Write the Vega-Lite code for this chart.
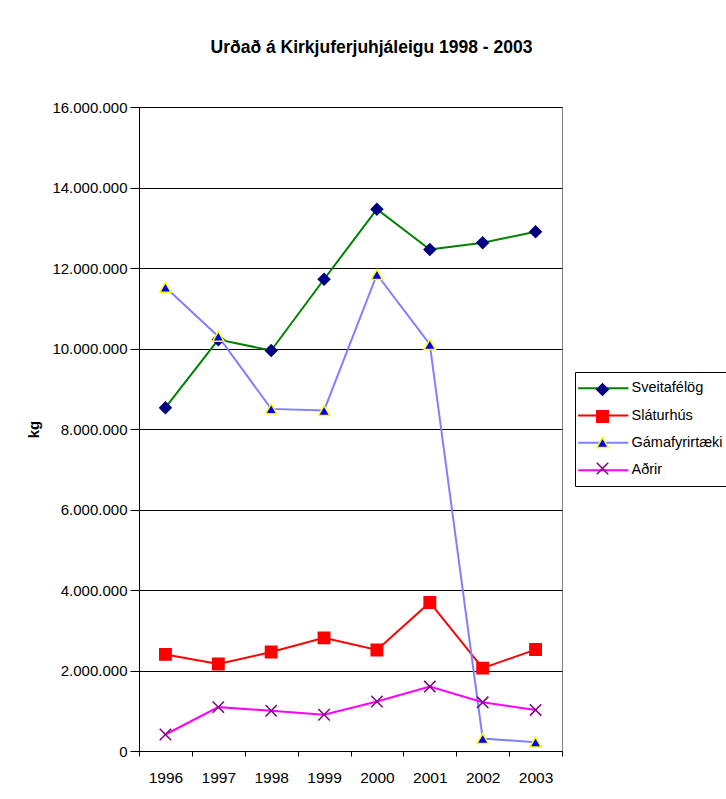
{
  "$schema": "https://vega.github.io/schema/vega-lite/v6.json",
  "width": 423,
  "height": 644,
  "autosize": "none",
  "padding": {"left": 139, "top": 107, "right": 164, "bottom": 48},
  "background": "white",
  "title": {"text": "Urðað á Kirkjuferjuhjáleigu 1998 - 2003", "fontSize": 17.5, "fontWeight": "bold", "font": "Liberation Sans", "anchor": "middle", "dx": 21, "offset": 44, "color": "black"},
  "data": {"values": [
    {"year": "1996", "series": "Sveitafélög", "value": 8530000},
    {"year": "1997", "series": "Sveitafélög", "value": 10220000},
    {"year": "1998", "series": "Sveitafélög", "value": 9950000},
    {"year": "1999", "series": "Sveitafélög", "value": 11720000},
    {"year": "2000", "series": "Sveitafélög", "value": 13460000},
    {"year": "2001", "series": "Sveitafélög", "value": 12460000},
    {"year": "2002", "series": "Sveitafélög", "value": 12630000},
    {"year": "2003", "series": "Sveitafélög", "value": 12900000},
    {"year": "1996", "series": "Sláturhús", "value": 2400000},
    {"year": "1997", "series": "Sláturhús", "value": 2160000},
    {"year": "1998", "series": "Sláturhús", "value": 2460000},
    {"year": "1999", "series": "Sláturhús", "value": 2810000},
    {"year": "2000", "series": "Sláturhús", "value": 2510000},
    {"year": "2001", "series": "Sláturhús", "value": 3690000},
    {"year": "2002", "series": "Sláturhús", "value": 2060000},
    {"year": "2003", "series": "Sláturhús", "value": 2520000},
    {"year": "1996", "series": "Gámafyrirtæki", "value": 11520000},
    {"year": "1997", "series": "Gámafyrirtæki", "value": 10300000},
    {"year": "1998", "series": "Gámafyrirtæki", "value": 8500000},
    {"year": "1999", "series": "Gámafyrirtæki", "value": 8460000},
    {"year": "2000", "series": "Gámafyrirtæki", "value": 11840000},
    {"year": "2001", "series": "Gámafyrirtæki", "value": 10100000},
    {"year": "2002", "series": "Gámafyrirtæki", "value": 310000},
    {"year": "2003", "series": "Gámafyrirtæki", "value": 220000},
    {"year": "1996", "series": "Aðrir", "value": 410000},
    {"year": "1997", "series": "Aðrir", "value": 1090000},
    {"year": "1998", "series": "Aðrir", "value": 1000000},
    {"year": "1999", "series": "Aðrir", "value": 900000},
    {"year": "2000", "series": "Aðrir", "value": 1230000},
    {"year": "2001", "series": "Aðrir", "value": 1600000},
    {"year": "2002", "series": "Aðrir", "value": 1210000},
    {"year": "2003", "series": "Aðrir", "value": 1020000}
  ]},
  "encoding": {
    "x": {
      "field": "year", "type": "ordinal",
      "scale": {"type": "band", "paddingInner": 0, "paddingOuter": 0},
      "axis": {"title": null, "labelAngle": 0, "tickBand": "extent", "grid": false, "tickSize": 5, "tickColor": "black", "domainColor": "black", "labelFontSize": 15.5, "labelPadding": 14, "labelColor": "black"}
    },
    "y": {
      "field": "value", "type": "quantitative",
      "scale": {"domain": [0, 16000000], "nice": false},
      "axis": {
        "title": "kg", "titleFontSize": 15, "titleFontWeight": "bold", "titleColor": "black", "titlePadding": 10,
        "values": [0, 2000000, 4000000, 6000000, 8000000, 10000000, 12000000, 14000000, 16000000],
        "labelExpr": "replace(format(datum.value, ',d'), /,/g, '.')",
        "grid": true, "gridColor": "black", "gridOpacity": 1, "gridWidth": 1,
        "tickSize": 9, "tickColor": "black", "domainColor": "black",
        "labelFontSize": 15, "labelPadding": 3, "labelColor": "black"
      }
    }
  },
  "layer": [
    {
      "mark": {"type": "line", "strokeWidth": 2},
      "encoding": {
        "stroke": {
          "field": "series", "type": "nominal",
          "scale": {"domain": ["Sveitafélög", "Sláturhús", "Gámafyrirtæki", "Aðrir"], "range": ["#008000", "#FF0000", "#8080FF", "#FF00FF"]},
          "legend": {"title": null, "orient": "none", "legendX": 436, "legendY": 265, "strokeColor": "black", "fillColor": "white", "padding": 9, "symbolType": "M-4.4,0H4.4", "symbolSize": 130, "symbolStrokeWidth": 2, "symbolOffset": 12, "labelOffset": 21, "labelFontSize": 14.5, "labelColor": "black", "rowPadding": 12.3, "labelLimit": 200}
        }
      }
    },
    {
      "mark": {"type": "point", "filled": true, "size": 130, "strokeWidth": 1.5, "opacity": 1},
      "encoding": {
        "shape": {
          "field": "series", "type": "nominal",
          "scale": {"domain": ["Sveitafélög", "Sláturhús", "Gámafyrirtæki", "Aðrir"], "range": ["diamond", "square", "triangle-up", "M-1,-1L1,1M1,-1L-1,1"]},
          "legend": {"title": null, "orient": "none", "legendX": 436, "legendY": 267, "padding": 9, "symbolSize": 130, "symbolStrokeWidth": 1.5, "symbolOffset": 12, "labelOffset": 0, "labelFontSize": 1, "labelExpr": "''", "rowPadding": 8, "labelLimit": 200}
        },
        "fill": {
          "field": "series", "type": "nominal",
          "scale": {"domain": ["Sveitafélög", "Sláturhús", "Gámafyrirtæki", "Aðrir"], "range": ["#000080", "#FF0000", "#0000FF", "#800080"]},
          "legend": {"title": null, "orient": "none", "legendX": 436, "legendY": 267, "padding": 9, "symbolSize": 130, "symbolStrokeWidth": 1.5, "symbolOffset": 12, "labelOffset": 0, "labelFontSize": 1, "labelExpr": "''", "rowPadding": 8, "labelLimit": 200}
        },
        "stroke": {
          "field": "series", "type": "nominal",
          "scale": {"domain": ["Sveitafélög", "Sláturhús", "Gámafyrirtæki", "Aðrir"], "range": ["#000080", "#FF0000", "#FFFF00", "#800080"]},
          "legend": {"title": null, "orient": "none", "legendX": 436, "legendY": 267, "padding": 9, "symbolSize": 130, "symbolStrokeWidth": 1.5, "symbolOffset": 12, "labelOffset": 0, "labelFontSize": 1, "labelExpr": "''", "rowPadding": 8, "labelLimit": 200}
        }
      }
    }
  ],
  "resolve": {
    "scale": {"stroke": "independent", "fill": "independent", "shape": "independent"},
    "legend": {"stroke": "independent", "fill": "independent", "shape": "independent"}
  },
  "config": {
    "font": "Liberation Sans",
    "view": {"stroke": "#808080", "strokeWidth": 1}
  }
}
